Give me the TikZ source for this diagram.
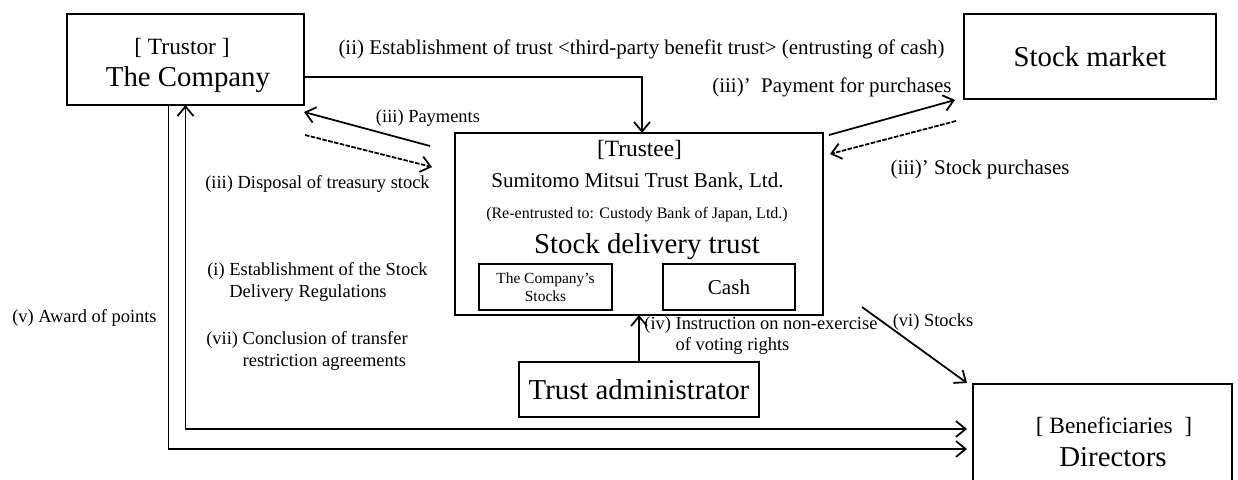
\documentclass[tikz,border=0pt]{standalone}
\usepackage{fontspec}
\setmainfont{Liberation Serif}
\usetikzlibrary{
  arrows.meta
}
\tikzset{
  % Shared values that are assigned to different keys in the styles below.
  globals/box line width/.initial=1.1pt,
  globals/flow line width/.initial=1pt,
%
  % For the party boxes.
  party/.style={
    draw,
    line width=\pgfkeysvalueof{/tikz/globals/box line width},
    inner sep=0pt,
    outer sep=0pt,
    align=center},
%
  % For money and other solid flows.
  flow/.style={
    line width=\pgfkeysvalueof{/tikz/globals/flow line width},
    -{Straight Barb[length=5.5pt,width=9pt]}},
%
  % For stock flows, drawn with short dashes.
  stock flow/.style={
    flow,
    dash pattern=on 2.6pt off 0.8pt},
%
  % For arrow descriptions.
  note/.style={
    inner sep=0pt,
    font=\fontsize{10.5}{12}\selectfont},
%
  % For the larger arrow descriptions near the top.
  wide note/.style={
    inner sep=0pt,
    font=\fontsize{11.9}{14}\selectfont},
%
  % For the large names.
  big/.style={
    font=\fontsize{16.4}{18}\selectfont},
  title/.style={
    font=\fontsize{13.3}{16}\selectfont}
}

\begin{document}
\begin{tikzpicture}[x=0.02cm,y=-0.02cm]
  \useasboundingbox (0,0) rectangle (1238,480);

  % Parties.
  \node[party, minimum width=4.74cm, minimum height=1.82cm] (company) at (185.5,59.5) {};
  \node[title] (trustor) at (182,48) {[ Trustor ]};
  \node[big] (companyname) at (188,80) {The Company};

  \node[party, minimum width=5.04cm, minimum height=1.70cm, big] (market) at (1090,56.5) {Stock market};

  \node[party, minimum width=7.36cm, minimum height=3.64cm] (trustee) at (639,224) {};
  \node[title] (trusteetitle) at (639.5,150) {[Trustee]};
  \node[font=\fontsize{12}{14}\selectfont] (bank) at (637.5,182) {Sumitomo Mitsui Trust Bank, Ltd.};
  \node[font=\fontsize{9.1}{11}\selectfont] (reentrust) at (637,215) {(Re-entrusted to: Custody Bank of Japan, Ltd.)};
  \node[big] (trust) at (647,247) {Stock delivery trust};

  \node[party, minimum width=2.66cm, minimum height=0.92cm,
        font=\fontsize{8.8}{10.5}\selectfont] (stocks) at (545.5,287) {The Company’s\\Stocks};
  \node[party, minimum width=2.64cm, minimum height=0.92cm,
        font=\fontsize{12}{14}\selectfont] (cash) at (729,287) {Cash};

  \node[party, minimum width=4.8cm, minimum height=1.1cm, big] (admin) at (639,389.5) {Trust administrator};

  \node[party, minimum width=5.18cm, minimum height=2.32cm] (directors) at (1102.5,442) {};
  \node[title] (beneficiaries) at (1114,427) {[ Beneficiaries\ \ ]};
  \node[big] (directorsname) at (1113,457) {Directors};

  % Flows between the parties.
  \draw[flow] ([shift={(0,17.5)}]company.east) -| ([xshift=0.06cm]trustee.north);
  \draw[flow] ([shift={(-25,13)}]trustee.north west) -- ([shift={(0,7)}]company.south east);
  \draw[stock flow] ([shift={(1,30)}]company.south east) -- ([shift={(-23,34)}]trustee.north west);
  \draw[flow] ([shift={(6,2)}]trustee.north east) -- ([shift={(-9,1)}]market.south west);
  \draw[stock flow] ([shift={(-8,22)}]market.south west) -- ([shift={(7,21)}]trustee.north east);
  \draw[flow] (admin.north) -- (trustee.south);
  \draw[flow] ([shift={(39,-8)}]trustee.south east) -- ([shift={(-6,-1)}]directors.north west);
  \draw[flow] ([xshift=-0.34cm]company.south) |- ([shift={(-6,7)}]directors.west);
  \draw[flow, {Straight Barb[length=5.5pt,width=9pt]}-{Straight Barb[length=5.5pt,width=9pt]}]
    (company.south) |- ([shift={(-6,-13)}]directors.west);

  % Descriptions.
  \node[wide note] (ii) at (641.5,49) {(ii) Establishment of trust <third-party benefit trust> (entrusting of cash)};
  \node[wide note] (iiipay) at (832,87) {(iii)’~ Payment for purchases};
  \node[wide note] (iiibuy) at (980,169) {(iii)’ Stock purchases};
  \node[note] (iii) at (428,118) {(iii) Payments};
  \node[note] (iiidisp) at (317.5,184) {(iii) Disposal of treasury stock};
  \node[note] (v) at (84.5,318) {(v) Award of points};
  \node[note, align=left, anchor=west] (i) at (207,282)
    {(i) Establishment of the Stock\\\hphantom{(i) }Delivery Regulations};
  \node[note, align=left, anchor=west] (vii) at (206,351)
    {(vii) Conclusion of transfer\\\hphantom{(vii) }restriction agreements};
  \node[note, align=left, anchor=west] (iv) at (644,336)
    {(iv) Instruction on non-exercise\\\hphantom{(iv) }of voting rights};
  \node[note] (vi) at (933,322) {(vi) Stocks};
\end{tikzpicture}
\end{document}
